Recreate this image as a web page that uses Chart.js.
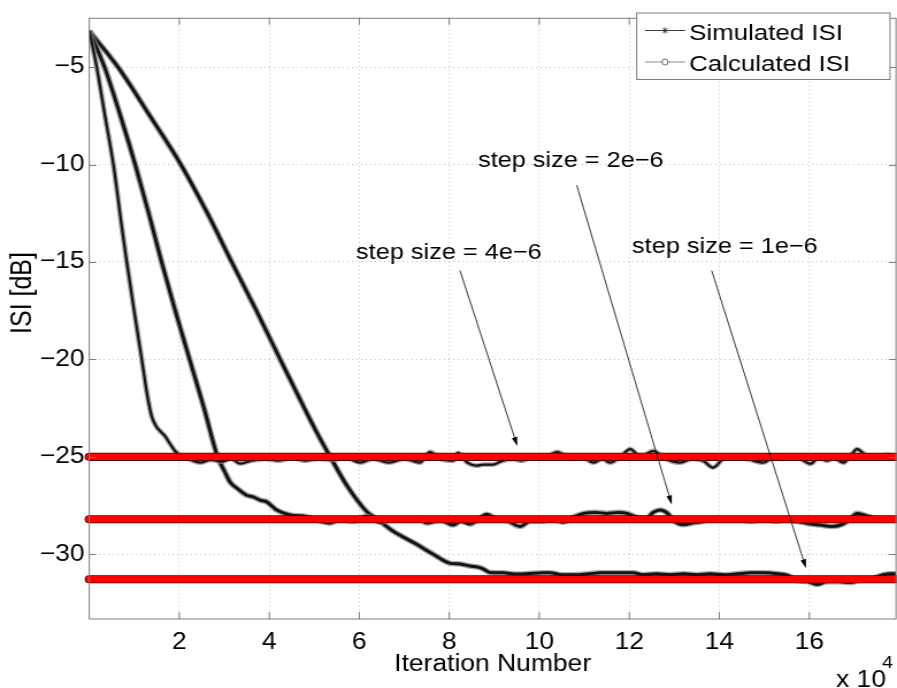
<!DOCTYPE html>
<html><head><meta charset="utf-8">
<script src="https://cdn.jsdelivr.net/npm/chart.js@4/dist/chart.umd.min.js"></script>
<style>html,body{margin:0;padding:0;background:#fff;overflow:hidden}canvas{display:block}</style>
</head><body>
<canvas id="c"></canvas>
<script>
// ---------------- data ----------------
const xTickValues = [0, 20000, 40000, 60000, 80000, 100000, 120000, 140000, 160000];
const yTickValues = [-30, -25, -20, -15, -10, -5];
const seriesNames = ['Simulated ISI', 'Calculated ISI'];
const stepSizeLabels = ['step size = 4e\u22126', 'step size = 2e\u22126', 'step size = 1e\u22126'];

// Simulated ISI [iteration, dB]
const simStep4e6 = [[0,-3.15],[1644,-5],[3489,-7.51],[5333,-9.97],[7200,-13.17],[8311,-14.98],[9933,-17.46],[11644,-19.98],[12822,-21.75],[13867,-22.93],[14822,-23.42],[15711,-23.67],[16822,-23.94],[17933,-24.33],[19044,-24.7],[20156,-24.93],[22500,-25.15],[24600,-25.3],[27000,-25.15],[29500,-25.25],[31500,-25.1],[33500,-25.35],[36000,-25.2],[39000,-25.1],[42000,-25.2],[45000,-25.05],[48000,-25.2],[51000,-25.1],[54000,-25.15],[57000,-25.05],[60150,-25.3],[63000,-25.1],[66600,-25.3],[70000,-25.1],[73500,-25.3],[75700,-24.75],[78000,-25.1],[80900,-25.2],[81900,-24.8],[84000,-25.3],[86100,-25.45],[87500,-25.4],[89700,-25.4],[91300,-25.25],[94000,-25.1],[96000,-25.2],[98600,-25.0],[101000,-25.05],[104000,-24.75],[107000,-25.1],[109500,-25.0],[112000,-25.3],[114000,-25.1],[115700,-25.3],[118000,-25.0],[120200,-24.6],[122500,-25.0],[125300,-24.7],[128000,-25.1],[131300,-25.3],[134000,-25.1],[136400,-25.2],[138600,-25.55],[141000,-25.1],[143100,-25.05],[146000,-25.1],[149800,-25.3],[152000,-25.05],[154300,-25.1],[157000,-25.0],[160300,-25.35],[162000,-25.05],[163900,-25.2],[165500,-25.05],[167500,-25.3],[169000,-25.0],[170600,-24.6],[172500,-24.9],[174200,-25.0],[177200,-24.9],[179300,-25.0]];
const simStep2e6 = [[0,-3.15],[3378,-5],[6933,-7.51],[10156,-9.97],[13156,-12.46],[16044,-14.98],[19044,-17.46],[22267,-19.98],[25489,-22.5],[28489,-24.98],[30156,-25.79],[31267,-26.29],[33044,-26.65],[34978,-26.97],[36378,-27.05],[37933,-27.22],[39422,-27.31],[41644,-27.73],[44600,-27.98],[48311,-28.07],[51300,-28.3],[53500,-28.4],[55500,-28.2],[58700,-28.3],[61600,-28.05],[64600,-28.35],[67500,-28.2],[70500,-28.25],[73000,-28.15],[75000,-28.4],[78000,-28.25],[80900,-28.5],[82500,-28.3],[84600,-28.45],[86500,-28.2],[88300,-27.95],[90500,-28.2],[93000,-28.3],[95700,-28.57],[98000,-28.3],[100900,-28.3],[103000,-28.2],[105300,-28.35],[107500,-28.1],[109800,-27.9],[112500,-27.85],[115000,-27.9],[117500,-27.85],[119500,-27.9],[121700,-28.1],[123800,-28.15],[125300,-27.85],[126900,-27.73],[128500,-27.9],[130000,-28.3],[132000,-28.48],[134000,-28.4],[136400,-28.3],[139400,-28.15],[141500,-28.25],[143900,-28.2],[147000,-28.3],[150000,-28.2],[152500,-28.3],[154300,-28.25],[157000,-28.3],[160300,-28.45],[162500,-28.5],[165000,-28.57],[167500,-28.45],[169000,-28.2],[170600,-27.9],[172500,-28.0],[175700,-28.2],[177500,-28.15],[179300,-28.2]];
const simStep1e6 = [[0,-3.15],[6378,-5],[13489,-7.51],[20267,-9.97],[26156,-12.46],[31600,-14.98],[37044,-17.46],[42378,-19.98],[47267,-22.26],[50600,-23.77],[53489,-24.98],[57200,-26.46],[61644,-27.81],[63867,-28.18],[67556,-28.82],[72756,-29.49],[76444,-30.0],[80000,-30.45],[82400,-30.5],[84600,-30.6],[86800,-30.68],[87600,-30.76],[89000,-30.93],[92000,-30.95],[95000,-31.01],[97200,-31.0],[100900,-30.95],[102400,-30.95],[105000,-31.05],[108000,-31.05],[111000,-31.0],[113500,-30.95],[117000,-30.95],[120900,-30.95],[123000,-31.05],[126000,-31.0],[129000,-31.05],[132000,-31.0],[135000,-31.05],[138000,-31.0],[141000,-31.05],[144000,-31.0],[147000,-30.95],[150000,-30.95],[153000,-31.0],[155500,-31.1],[157200,-31.35],[159500,-31.4],[161700,-31.55],[164000,-31.4],[166500,-31.4],[169000,-31.45],[171000,-31.35],[172800,-31.3],[174500,-31.2],[176400,-31.05],[178000,-31.0],[179300,-31.0]];

// Calculated ISI (steady-state, dB) for step sizes 4e-6, 2e-6, 1e-6
const calcLevels = [-25.0, -28.2, -31.28];
const iterRange = [0, 179270];
const isiRange = [-33.32, -2.47];

// annotation anchors in data units: text [x, baseline y], arrow from, arrow to
const noteText = [[59267, -14.83], [86378, -10.15], [120600, -14.52]];
const arrowFrom = [[82378, -15.44], [108311, -11.06], [138311, -15.44]];
const arrowTo = [[95111, -24.44], [129422, -27.44], [159267, -30.71]];

// ---------------- layout ----------------
const S = 1.15; // the reference figure is stretched horizontally
const W = Math.round(897 / S), H = 688;
const cv = document.getElementById('c');
cv.width = W; cv.height = H;
cv.style.width = '897px'; cv.style.height = '688px';
const FONT = '"Liberation Sans", Arial, Helvetica, sans-serif';

const toXY = arr => arr.map(p => ({x: p[0], y: p[1]}));
const simWidths = [2.2, 3, 3];
const simSets = [simStep4e6, simStep2e6, simStep1e6].map((d, i) => ({
  label: seriesNames[0], data: toXY(d), borderColor: '#141414', borderWidth: simWidths[i],
  pointRadius: 0, cubicInterpolationMode: 'monotone', order: 2,
  outlineColor: 'rgba(130,130,130,0.7)', outlineExtra: 2.6, borderJoinStyle: 'round'
}));
const calcSets = calcLevels.map(v => ({
  label: seriesNames[1], data: [{x: iterRange[0], y: v}, {x: iterRange[1], y: v}],
  borderColor: '#ff0000', borderWidth: 6.5, pointRadius: 0, order: 1, clip: false,
  borderCapStyle: 'round', outlineColor: '#4a0000', outlineExtra: 1.6
}));

// draws a wider halo under a dataset's own line path
const outline = {
  id: 'outline',
  beforeDatasetDraw(chart, args) {
    const ds = chart.data.datasets[args.index];
    if (!ds.outlineColor) return;
    const ctx = chart.ctx, a = chart.chartArea, lineEl = args.meta.dataset;
    ctx.save();
    if (ds.clip !== false) { ctx.beginPath(); ctx.rect(a.left, a.top, a.right - a.left, a.bottom - a.top); ctx.clip(); }
    const o = lineEl.options;
    const bw = o.borderWidth, bc = o.borderColor;
    o.borderWidth = bw + ds.outlineExtra; o.borderColor = ds.outlineColor;
    lineEl.draw(ctx, a);
    o.borderWidth = bw; o.borderColor = bc;
    ctx.restore();
  }
};

function line(ctx, x0, y0, x1, y1) { ctx.beginPath(); ctx.moveTo(x0, y0); ctx.lineTo(x1, y1); ctx.stroke(); }

const decor = {
  id: 'decor',
  afterDraw(chart) {
    const ctx = chart.ctx, a = chart.chartArea, xs = chart.scales.x, ys = chart.scales.y;
    ctx.save();
    // axes box and inward ticks
    ctx.strokeStyle = '#7c7c7c'; ctx.lineWidth = 1;
    ctx.strokeRect(a.left, a.top + 0.5, a.right - a.left, a.bottom - a.top - 0.5);
    const tl = 7;
    xTickValues.forEach(v => {
      if (v === 0) return;
      const x = xs.getPixelForValue(v);
      line(ctx, x, a.bottom, x, a.bottom - tl);
      line(ctx, x, a.top, x, a.top + tl);
    });
    yTickValues.forEach(v => {
      const y = Math.round(ys.getPixelForValue(v)) + 0.5;
      line(ctx, a.left, y, a.left + tl / S, y);
      line(ctx, a.right, y, a.right - tl / S, y);
    });

    // annotations with arrows
    ctx.fillStyle = '#000'; ctx.strokeStyle = '#000';
    ctx.font = '22px ' + FONT; ctx.textBaseline = 'alphabetic'; ctx.textAlign = 'left';
    stepSizeLabels.forEach((t, i) => {
      ctx.fillText(t, xs.getPixelForValue(noteText[i][0]), ys.getPixelForValue(noteText[i][1]));
      const X0 = xs.getPixelForValue(arrowFrom[i][0]) * S, Y0 = ys.getPixelForValue(arrowFrom[i][1]);
      const X1 = xs.getPixelForValue(arrowTo[i][0]) * S, Y1 = ys.getPixelForValue(arrowTo[i][1]);
      const L = Math.hypot(X1 - X0, Y1 - Y0), ux = (X1 - X0) / L, uy = (Y1 - Y0) / L;
      const hl = 9, hw = 2.8;
      const bx = X1 - ux * hl, by = Y1 - uy * hl;
      ctx.lineWidth = 0.8;
      line(ctx, X0 / S, Y0, bx / S, by);
      ctx.beginPath();
      ctx.moveTo(X1 / S, Y1);
      ctx.lineTo((bx - uy * hw) / S, by + ux * hw);
      ctx.lineTo((bx + uy * hw) / S, by - ux * hw);
      ctx.closePath(); ctx.fill();
    });

    // legend
    const lx0 = 636.7 / S, lx1 = 890 / S, ly0 = 12.5, ly1 = 79;
    ctx.fillStyle = '#fff'; ctx.fillRect(lx0, ly0, lx1 - lx0, ly1 - ly0);
    ctx.strokeStyle = '#7c7c7c'; ctx.lineWidth = 1;
    ctx.strokeRect(lx0, ly0 + 0.5, lx1 - lx0, ly1 - ly0);
    const rows = [30.5, 62];
    ctx.strokeStyle = '#3a3a3a'; ctx.lineWidth = 1;
    line(ctx, 645 / S, rows[0], 685 / S, rows[0]);
    const cx = 665 / S, r = 3;
    for (let k = 0; k < 4; k++) {
      const ang = k * Math.PI / 4;
      line(ctx, cx - Math.cos(ang) * r / S, rows[0] - Math.sin(ang) * r, cx + Math.cos(ang) * r / S, rows[0] + Math.sin(ang) * r);
    }
    ctx.strokeStyle = '#8a8a8a';
    line(ctx, 645 / S, rows[1], 685 / S, rows[1]);
    ctx.beginPath(); ctx.ellipse(cx, rows[1], 3 / S, 3, 0, 0, Math.PI * 2);
    ctx.fillStyle = '#fff'; ctx.fill(); ctx.strokeStyle = '#6a6a6a'; ctx.stroke();
    ctx.fillStyle = '#000'; ctx.font = '22.5px ' + FONT; ctx.textBaseline = 'alphabetic';
    ctx.fillText(seriesNames[0], 689 / S, 40);
    ctx.fillText(seriesNames[1], 689 / S, 71);

    // exponent label
    ctx.font = '23px ' + FONT;
    ctx.fillText('x 10', 836 / S, 687);
    ctx.font = '17px ' + FONT;
    ctx.fillText('4', 882 / S, 668);

    // y axis title
    ctx.save();
    ctx.translate(31 / S, 293);
    ctx.rotate(-Math.PI / 2);
    ctx.font = '25px ' + FONT; ctx.textAlign = 'center'; ctx.textBaseline = 'alphabetic';
    ctx.fillText('ISI [dB]', 0, 0);
    ctx.restore();
    ctx.restore();
  }
};

new Chart(cv, {
  type: 'line',
  data: { datasets: [...calcSets, ...simSets] },
  options: {
    responsive: false, animation: false, devicePixelRatio: 1,
    layout: { padding: { top: 8, right: W - 896 / S, bottom: 0, left: 0 } },
    plugins: { legend: { display: false }, tooltip: { enabled: false } },
    scales: {
      x: {
        type: 'linear', min: iterRange[0], max: iterRange[1],
        afterFit: s => { s.height = 69; },
        afterBuildTicks: s => { s.ticks = xTickValues.map(v => ({value: v})); },
        ticks: { autoSkip: false, maxRotation: 0, padding: 10, color: '#000',
          font: { size: 23, family: FONT },
          callback: v => v === 0 ? '' : String(v / 1e4) },
        grid: { color: '#c2c2c2', drawTicks: false, lineWidth: 1 },
        border: { display: false, dash: [1, 3] },
        title: { display: true, text: 'Iteration Number', color: '#000', padding: { top: 0, bottom: 10 },
          font: { size: 23, family: FONT } }
      },
      y: {
        type: 'linear', min: isiRange[0], max: isiRange[1],
        afterFit: s => { s.width = 89.3 / S; },
        afterBuildTicks: s => { s.ticks = yTickValues.map(v => ({value: v})); },
        ticks: { autoSkip: false, padding: 4, color: '#000', font: { size: 23, family: FONT },
          callback: v => v < 0 ? '\u2212' + Math.abs(v) : String(v) },
        grid: { color: '#c2c2c2', drawTicks: false, lineWidth: 1 },
        border: { display: false, dash: [1, 3] }
      }
    }
  },
  plugins: [outline, decor]
});
</script>
</body></html>
